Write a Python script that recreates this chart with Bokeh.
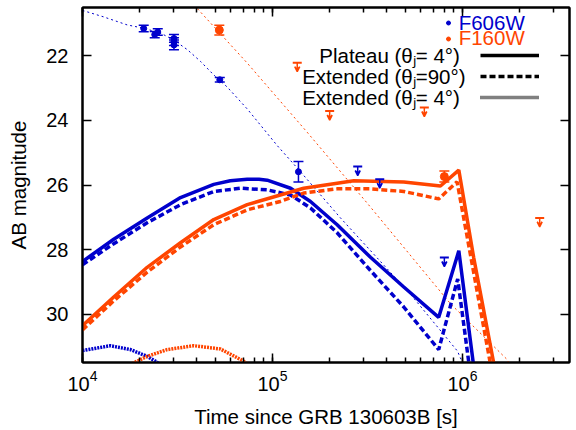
from bokeh.plotting import figure
from bokeh.models import (Range1d, LogAxis, LinearAxis, LogTicker, FixedTicker, Legend, LegendItem,
                          Label, ColumnDataSource, Whisker, TeeHead, Arrow, VeeHead)
from bokeh.core.properties import value
from bokeh.embed import file_html
from bokeh.resources import INLINE

BLUE = "#0000cc"
ORANGE = "#ff4500"
FONT = "Liberation Sans"
NAN = float("nan")

# ---- data ----
y_ticks = [22, 24, 26, 28, 30]

# observed detections (t [s], AB mag, 1-sigma error)
f606_t = [2.1e4, 2.4e4, 2.49e4, 3.03e4, 3.03e4, 3.03e4, 5.28e4, 1.37e5]
f606_m = [21.15, 21.34, 21.26, 21.46, 21.56, 21.66, 22.74, 25.59]
f606_e = [0.10, 0.10, 0.10, 0.12, 0.12, 0.15, 0.07, 0.32]
f606_ul_t = [2.81e5, 3.67e5, 8.03e5]
f606_ul_m = [25.43, 25.82, 28.25]

f160_t = [5.25e4, 8.03e5]
f160_m = [21.20, 25.74]
f160_e = [0.15, 0.17]
f160_ul_t = [1.35e5, 2.0e5, 6.3e5, 2.55e6]
f160_ul_m = [22.21, 23.71, 23.60, 27.02]

# afterglow fits (thin dotted)
fit606_t = [1.0e4, 1.29e4, 1.72e4, 2.09e4, 2.57e4, 3.01e4, 3.57e4, 4.18e4, 4.89e4, 5.79e4,
            7.38e4, 1.06e5, 1.40e5, 2.28e5, 5.32e5, 9.42e5, 1.05e6]
fit606_m = [20.59, 20.79, 21.04, 21.14, 21.29, 21.50, 21.81, 22.17, 22.58, 22.97,
            23.65, 24.78, 25.58, 27.02, 29.38, 31.15, 31.80]
fit160_t = [3.56e4, 4.18e4, 7.36e4, 1.52e5, 3.15e5, 8.65e5, 1.72e6, 1.85e6]
fit160_m = [20.20, 20.64, 22.22, 24.36, 26.56, 29.68, 31.41, 31.80]

# kilonova / merger-nova models
plat606_t = [1.0e4, 1.46e4, 2.19e4, 3.28e4, 4.91e4, 6.0e4, 7.36e4, 8.5e4, 9.38e4, 1.245e5,
             1.585e5, 2.19e5, 3.28e5, 4.91e5, 7.5e5, 9.57e5, 1.18e6]
plat606_m = [28.37, 27.68, 27.02, 26.39, 25.98, 25.87, 25.82, 25.82, 25.85, 26.10,
             26.51, 27.23, 28.24, 29.16, 30.10, 28.04, 32.20]
ext90_606_t = [1.0e4, 1.46e4, 2.19e4, 3.28e4, 4.91e4, 6.79e4, 9.38e4, 1.245e5, 1.585e5, 2.19e5,
               3.28e5, 4.91e5, 7.5e5, 9.44e5, 1.12e6]
ext90_606_m = [28.47, 27.82, 27.17, 26.61, 26.20, 26.10, 26.15, 26.31, 26.71, 27.48,
               28.65, 29.78, 31.10, 28.91, 32.20]
ext4_606_t = [1.0e4, 1.40e4, 1.79e4, 2.19e4, 2.47e4, 2.7e4]
ext4_606_m = [31.13, 30.98, 31.10, 31.31, 31.49, 31.80]

plat160_t = [1.0e4, 1.46e4, 2.19e4, 3.28e4, 4.91e4, 7.36e4, 1.10e5, 1.46e5, 2.68e5, 4.91e5,
             7.66e5, 9.57e5, 1.146e6, 1.46e6, 1.535e6]
plat160_m = [30.36, 29.47, 28.55, 27.79, 27.07, 26.61, 26.31, 26.10, 25.87, 25.91,
             26.03, 25.54, 28.25, 31.51, 32.20]
ext90_160_t = [1.0e4, 1.46e4, 2.19e4, 3.28e4, 4.91e4, 7.36e4, 1.10e5, 1.46e5, 2.19e5, 3.28e5,
               4.91e5, 7.5e5, 9.37e5, 1.40e6, 1.47e6]
ext90_160_m = [30.49, 29.59, 28.70, 27.92, 27.23, 26.77, 26.51, 26.25, 26.12, 26.12,
               26.20, 26.43, 25.90, 31.51, 32.20]
ext4_160_t = [1.7e4, 1.86e4, 2.19e4, 2.79e4, 3.85e4, 5.32e4, 7.06e4, 7.5e4]
ext4_160_m = [31.75, 31.51, 31.31, 31.10, 30.98, 31.08, 31.46, 31.60]

model_labels = ["Plateau (θⱼ=  4°)", "Extended (θⱼ=90°)", "Extended (θⱼ=  4°)"]
band_labels = ["F606W", "F160W"]

# ---- figure (frame: x 82..569, y 7..366 in page pixels) ----
p = figure(width=571, height=430, x_axis_type="log",
           x_range=Range1d(1e4, 3.66e6), y_range=Range1d(31.5, 20.5),
           output_backend="svg", toolbar_location=None,
           min_border_left=82, min_border_right=2, min_border_top=7, min_border_bottom=64)
p.xgrid.visible = False
p.ygrid.visible = False
p.outline_line_color = "black"
p.outline_line_width = 2
p.background_fill_color = "white"
p.border_fill_color = "white"

SOLID_W = 3.5
DASH = "6 3"
DOT = "2 1"

# thin fits
p.line(fit606_t, fit606_m, color=BLUE, line_width=1, line_dash="2 3")
p.line(fit160_t, fit160_m, color=ORANGE, line_width=1, line_dash="2 3")

# models
p.line(plat606_t, plat606_m, color=BLUE, line_width=SOLID_W)
p.line(ext90_606_t, ext90_606_m, color=BLUE, line_width=SOLID_W, line_dash=DASH)
p.line(ext4_606_t, ext4_606_m, color=BLUE, line_width=SOLID_W, line_dash=DOT)
p.line(plat160_t, plat160_m, color=ORANGE, line_width=SOLID_W)
p.line(ext90_160_t, ext90_160_m, color=ORANGE, line_width=SOLID_W, line_dash=DASH)
p.line(ext4_160_t, ext4_160_m, color=ORANGE, line_width=SOLID_W, line_dash=DOT)

# detections with error bars
def detections(t, m, e, color, size):
    src = ColumnDataSource(dict(t=t, m=m, lo=[a + b for a, b in zip(m, e)],
                                hi=[a - b for a, b in zip(m, e)]))
    w = Whisker(base="t", upper="hi", lower="lo", dimension="height", source=src,
                line_color=color, line_width=1.5,
                upper_head=TeeHead(size=10, line_color=color, line_width=1.5),
                lower_head=TeeHead(size=10, line_color=color, line_width=1.5))
    p.add_layout(w)
    p.scatter("t", "m", source=src, size=size, color=color, marker="circle")

detections(f606_t, f606_m, f606_e, BLUE, 6)
detections(f160_t, f160_m, f160_e, ORANGE, 8)

# upper limits
def upper_limits(t, m, color):
    src = ColumnDataSource(dict(t=t, m=m, m2=[v + 0.28 for v in m]))
    p.scatter("t", "m", source=src, marker="dash", size=9, line_color=color, line_width=2)
    p.add_layout(Arrow(x_start="t", y_start="m", x_end="t", y_end="m2", source=src,
                       line_color=color, line_width=1.5,
                       end=VeeHead(size=5, line_color=color, fill_color=color, line_width=1.5)))

upper_limits(f606_ul_t, f606_ul_m, BLUE)
upper_limits(f160_ul_t, f160_ul_m, ORANGE)

# axes
p.xaxis.ticker = LogTicker(mantissas=[1], num_minor_ticks=10, desired_num_ticks=3)
p.yaxis.ticker = FixedTicker(ticks=y_ticks)
for ax in (p.xaxis[0], p.yaxis[0]):
    ax.major_tick_in = 9
    ax.major_tick_out = 0
    ax.minor_tick_in = 5
    ax.minor_tick_out = 0
    ax.major_tick_line_width = 1.5
    ax.minor_tick_line_width = 1.5
    ax.axis_line_width = 2
    ax.major_label_text_font = FONT
    ax.major_label_text_font_size = "20px"
    ax.major_label_text_color = "black"
    ax.axis_label_text_font = FONT
    ax.axis_label_text_font_size = "20.5px"
    ax.axis_label_text_font_style = "normal"
    ax.axis_label_text_color = "black"
p.yaxis.minor_tick_line_color = None
p.xaxis.axis_label = "Time since GRB 130603B [s]"
p.yaxis.axis_label = "AB magnitude"
p.xaxis.major_label_standoff = 7
p.xaxis.axis_label_standoff = 11
p.yaxis.major_label_standoff = 14
p.yaxis.axis_label_standoff = 13

top = LogAxis(ticker=LogTicker(mantissas=[1], num_minor_ticks=10, desired_num_ticks=3),
              major_label_text_font_size="1px", major_label_text_alpha=0, major_label_standoff=0,
              major_tick_in=9, major_tick_out=0, minor_tick_in=5, minor_tick_out=0,
              major_tick_line_width=1.5, minor_tick_line_width=1.5, axis_line_width=2)
p.add_layout(top, "above")
right = LinearAxis(ticker=FixedTicker(ticks=y_ticks),
                   major_label_text_font_size="1px", major_label_text_alpha=0, major_label_standoff=0,
                   major_tick_in=9, major_tick_out=0, minor_tick_line_color=None,
                   major_tick_line_width=1.5, axis_line_width=2)
p.add_layout(right, "right")

# band legends (dot + coloured text); dummy renderers carry a NaN point so the glyph is drawn
for i, (lab, col, yloc) in enumerate(zip(band_labels, [BLUE, ORANGE], [327.5, 312.0])):
    r = p.scatter([NAN], [NAN], marker="circle", size=6.5, color=col)
    lg = Legend(items=[LegendItem(label=value(lab), renderers=[r])],
                location=(360.7, yloc), orientation="vertical",
                glyph_width=10, glyph_height=23, label_height=23, label_standoff=6,
                padding=0, margin=0, spacing=0, border_line_color=None,
                background_fill_alpha=0, label_text_font=FONT, label_text_font_size="20.5px",
                label_text_color=col, label_text_baseline="middle")
    p.add_layout(lg)

# model style legend: samples at right, texts right-aligned to their left
r1 = p.line([NAN, NAN], [NAN, NAN], color="black", line_width=SOLID_W)
r2 = p.line([NAN, NAN], [NAN, NAN], color="black", line_width=SOLID_W, line_dash=DASH)
r3 = p.line([NAN, NAN], [NAN, NAN], color="black", line_width=SOLID_W, line_dash="1 1")
lg2 = Legend(items=[LegendItem(label=value("."), renderers=[r]) for r in (r1, r2, r3)],
             location=(398, 255), glyph_width=59, glyph_height=20, label_height=20,
             label_width=1, label_standoff=0, padding=0, margin=0, spacing=1,
             border_line_color=None, background_fill_alpha=0, label_text_font_size="2px",
             label_text_alpha=0)
p.add_layout(lg2)
for i, lab in enumerate(model_labels):
    p.add_layout(Label(x=383, y=306.7 - 21 * i, x_units="screen", y_units="screen", text=lab,
                       text_align="right", text_baseline="middle", text_font=FONT,
                       text_font_size="20.5px", text_color="black"))

open("out.html", "w").write(file_html(p, INLINE))
